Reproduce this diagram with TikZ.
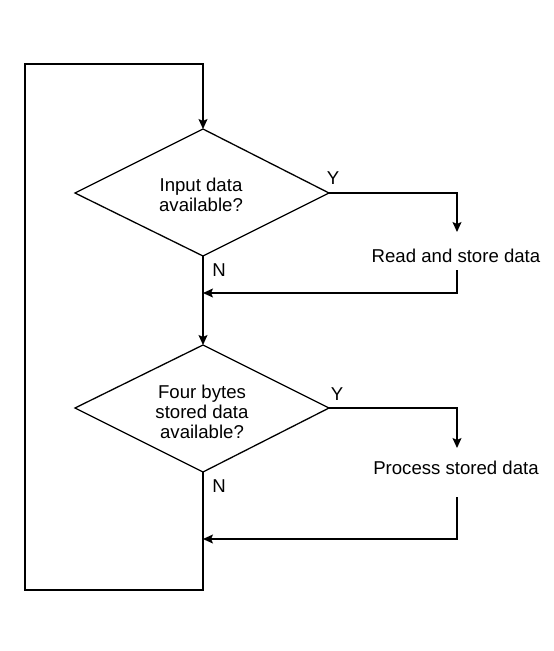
\documentclass[tikz,border=0pt]{standalone}
\usepackage{fontspec}
\setmainfont{Liberation Sans}
\usetikzlibrary{shapes.geometric,arrows.meta}
\begin{document}
\begin{tikzpicture}[x=1pt,y=-1pt,
  line/.style={draw=black,line width=1.3pt},
  arr/.style={line,-{Stealth[length=10pt,width=9pt,inset=2pt]}},
  txt/.style={font=\fontsize{18.6}{19.8}\selectfont,align=center,inner sep=0pt},
  lbl/.style={font=\fontsize{18.6}{20}\selectfont,inner sep=0pt}]
\useasboundingbox (0,0) rectangle (554,651);
% diamonds
\coordinate (d1t) at (203,129); \coordinate (d1l) at (75,193);
\coordinate (d1r) at (329,193); \coordinate (d1b) at (203,256);
\draw[line,line join=miter] (d1t) -- (d1r) -- (d1b) -- (d1l) -- cycle;
\node[txt] (q1) at (201,195) {Input data\\available?};
\coordinate (d2t) at (203,345); \coordinate (d2l) at (75,408);
\coordinate (d2r) at (329,408); \coordinate (d2b) at (203,472);
\draw[line,line join=miter] (d2t) -- (d2r) -- (d2b) -- (d2l) -- cycle;
\node[txt] (q2) at (202,412) {Four bytes\\stored data\\available?};
% actions
\node[txt] (a1) at (456,256) {Read and store data};
\node[txt] (a2) at (456,468) {Process stored data};
% labels
\node[lbl] (y1) at (333,178) {Y};
\node[lbl] (n1) at (219,270) {N};
\node[lbl] (y2) at (337,394) {Y};
\node[lbl] (n2) at (219,486) {N};
% connectors
\coordinate (a1in) at (457,232);
\coordinate (a1out) at (457,270);
\coordinate (j1) at (203,293);
\coordinate (a2in) at (457,448);
\coordinate (a2out) at (457,497);
\coordinate (j2) at (203,539);
\coordinate (bl) at (25,590);
\coordinate (tl) at (25,64);
\coordinate (tr) at (203,64);
\draw[arr] (d1r) -- (457,193) -- (a1in);
\draw[arr] (a1out) -- (457,293) -- (j1);
\draw[arr] (d1b) -- (d2t);
\draw[arr] (d2r) -- (457,408) -- (a2in);
\draw[arr] (a2out) -- (457,539) -- (j2);
\draw[arr,line join=miter] (d2b) -- (203,590) -- (bl) -- (tl) -- (tr) -- (d1t);
\end{tikzpicture}
\end{document}
